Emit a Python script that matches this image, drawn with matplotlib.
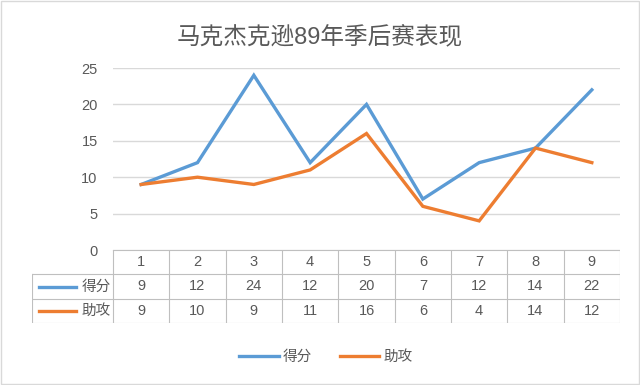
import matplotlib
matplotlib.use("Agg")
import matplotlib.pyplot as plt
from matplotlib.patches import Rectangle

plt.rcParams['font.family'] = ['Liberation Sans', 'Noto Sans CJK SC']

games = ['1', '2', '3', '4', '5', '6', '7', '8', '9']
points = [9, 12, 24, 12, 20, 7, 12, 14, 22]
assists = [9, 10, 9, 11, 16, 6, 4, 14, 12]
series_names = ['得分', '助攻']
title = '马克杰克逊89年季后赛表现'

blue = '#5B9BD5'
orange = '#ED7D31'
txt = '#595959'
grid = '#D9D9D9'

W, H = 640, 385
fig = plt.figure(figsize=(W / 100, H / 100), dpi=100)
fig.patch.set_facecolor('white')

def fx(px):
    return px / W

def fy(py):
    return 1 - py / H

# main plot area
x0, x1 = 113, 620
ytop, ybot = 68, 250
ax = fig.add_axes([fx(x0), fy(ybot), fx(x1) - fx(x0), fy(ytop) - fy(ybot)])
xs = list(range(len(games)))
ax.plot(xs, points, color=blue, lw=2.4, solid_joinstyle='miter', zorder=3)
ax.plot(xs, assists, color=orange, lw=2.4, solid_joinstyle='miter', zorder=3)
ax.set_xlim(-0.5, len(games) - 0.5)
ax.set_ylim(0, 25)
ax.set_yticks([0, 5, 10, 15, 20, 25])
ax.yaxis.grid(True, color=grid, lw=1)
ax.set_axisbelow(True)
for s in ax.spines.values():
    s.set_visible(False)
ax.tick_params(axis='y', length=0, labelsize=10.5, labelcolor=txt, pad=11)
ax.set_xticks([])

# data table below
colw = (x1 - x0) / len(games)
lab_left = 32
tbl_bot = 323
tax = fig.add_axes([fx(lab_left), fy(tbl_bot), fx(x1) - fx(lab_left), fy(ybot) - fy(tbl_bot)])
tax.set_xlim(-0.5 - (x0 - lab_left) / colw, len(games) - 0.5)
tax.set_ylim(3, 0)
tax.axis('off')
lk = dict(color='#BFBFBF', lw=0.8)
xl = -0.5 - (x0 - lab_left) / colw
tax.plot([-0.5, len(games) - 0.5], [0, 0], **lk)
for r in [1, 2, 3]:
    tax.plot([xl, len(games) - 0.5], [r, r], **lk)
for c in range(len(games) + 1):
    tax.plot([c - 0.5, c - 0.5], [0, 3], **lk)
tax.plot([xl, xl], [1, 3], **lk)
for i, g in enumerate(games):
    tax.text(i, 0.5, g, ha='center', va='center', fontsize=10.5, color=txt)
    tax.text(i, 1.5, str(points[i]), ha='center', va='center', fontsize=10.5, color=txt)
    tax.text(i, 2.5, str(assists[i]), ha='center', va='center', fontsize=10.5, color=txt)
for r, (name, col) in enumerate(zip(series_names, [blue, orange])):
    tax.plot([xl + 0.12, xl + 0.78], [1.5 + r, 1.5 + r], color=col, lw=2.4)
    tax.text(xl + 0.88, 1.5 + r, name, ha='left', va='center', fontsize=10.5, color=txt)

# legend
fig.legend(handles=[plt.Line2D([], [], color=blue, lw=2.4),
                    plt.Line2D([], [], color=orange, lw=2.4)],
           labels=series_names, loc='center', bbox_to_anchor=(fx(326), fy(357)),
           ncol=2, frameon=False, fontsize=10.5, labelcolor=txt,
           handlelength=2.7, columnspacing=1.9, handletextpad=0.3)

fig.text(0.5, fy(37), title, ha='center', va='center', fontsize=17, color=txt)

fig.patches.append(Rectangle((0.002, 0.003), 0.996, 0.994, transform=fig.transFigure,
                             fill=False, edgecolor=grid, lw=1))

fig.savefig('out.png', dpi=100)
